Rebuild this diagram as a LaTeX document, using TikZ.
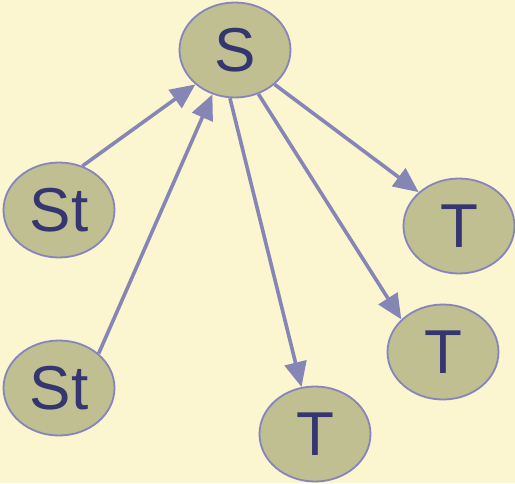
\documentclass[tikz,border=0pt]{standalone}
\usepackage{fontspec}
\setmainfont{Liberation Sans}
\usetikzlibrary{shapes.geometric,arrows.meta}
\definecolor{bgc}{HTML}{FBF5D0}
\definecolor{nodefill}{HTML}{BFBF92}
\definecolor{nodeline}{HTML}{8585BC}
\definecolor{txt}{HTML}{353570}
\definecolor{arr}{HTML}{8686B6}
\begin{document}
\begin{tikzpicture}[x=1pt,y=-1pt,
  ell/.style={ellipse,draw=nodeline,fill=nodefill,line width=1.8pt,minimum width=111pt,minimum height=95pt,inner sep=0pt,text=txt,font=\fontsize{62}{62}\selectfont},
  con/.style={draw=arr,line width=3.6pt,-{Triangle[length=25pt,width=22pt]}}]
\fill[bgc] (0,0) rectangle (515,483);
\useasboundingbox (0,0) rectangle (515,483);
\node[ell] (s) at (235,50) {S};
\node[ell] (st1) at (59,210) {St};
\node[ell] (st2) at (59,388) {St};
\node[ell] (t1) at (459,226) {T};
\node[ell] (t2) at (443,352) {T};
\node[ell] (t3) at (315,434) {T};
\draw[con] (st1.62) -- (s.221);
\draw[con] (st2.41) -- (s.243);
\draw[con] (s.264) -- (t3.106);
\draw[con] (s.298) -- (t2.142);
\draw[con] (s.319) -- (t1.140);
\end{tikzpicture}
\end{document}
